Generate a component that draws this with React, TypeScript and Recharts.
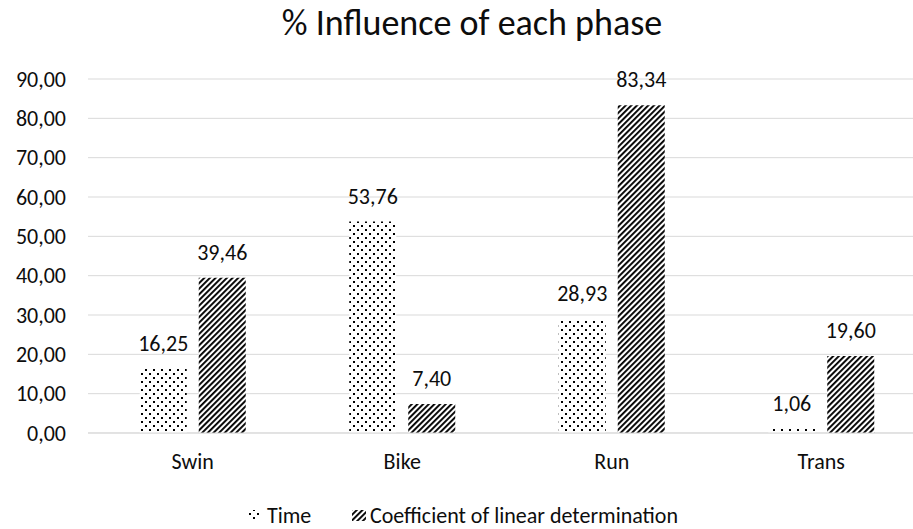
import { BarChart, Bar, XAxis, YAxis, CartesianGrid, LabelList } from "recharts";

const phases = ["Swin", "Bike", "Run", "Trans"];
const timeValues = [16.25, 53.76, 28.93, 1.06];
const coefValues = [39.46, 7.4, 83.34, 19.6];
const yTicks = [0, 10, 20, 30, 40, 50, 60, 70, 80, 90];

const data = phases.map((phase, i) => ({
  phase,
  time: timeValues[i],
  coef: coefValues[i],
}));

const fmt = (v: number) => Number(v).toFixed(2).replace(".", ",");
const FONT = "Carlito, Calibri, 'Open Sans', sans-serif";
const TEXT = "#0d0d0d";
const FS = 22;

// pattern fills, used by bars and legend swatches
const Patterns = () => (
  <defs>
    <pattern id="dots" width={8} height={8} patternUnits="userSpaceOnUse">
      <rect width={8} height={8} fill="#fff" />
      <rect x={1} y={1} width={2} height={2} fill="#000" />
      <rect x={5} y={5} width={2} height={2} fill="#000" />
    </pattern>
    <pattern
      id="stripes"
      width={4}
      height={4}
      patternUnits="userSpaceOnUse"
      patternTransform="rotate(45)"
    >
      <rect width={4} height={4} fill="#fff" />
      <rect x={0} y={0} width={1.9} height={4} fill="#000" />
    </pattern>
  </defs>
);

const Overlay = () => (
  <svg
    width={913}
    height={529}
    style={{ position: "absolute", left: 0, top: 0, pointerEvents: "none" }}
  >
    <Patterns />
    <text x={472} y={35} textAnchor="middle" fontFamily={FONT} fontSize={36} fill={TEXT}>
      % Influence of each phase
    </text>
    <rect x={248} y={510} width={11} height={11} fill="url(#dots)" />
    <text x={267} y={523} fontFamily={FONT} fontSize={FS} fill={TEXT}>
      Time
    </text>
    <rect x={352} y={510} width={14} height={11} fill="url(#stripes)" />
    <text x={370} y={523} fontFamily={FONT} fontSize={FS} fill={TEXT}>
      Coefficient of linear determination
    </text>
  </svg>
);

export default function App() {
  // the source chart runs past the right edge of the picture, so it is clipped
  return (
    <div
      style={{
        position: "absolute",
        left: 0,
        top: 0,
        width: 913,
        height: 529,
        overflow: "hidden",
        background: "#fff",
      }}
    >
      <BarChart
        width={940}
        height={529}
        data={data}
        margin={{ top: 79, right: 14, bottom: 56, left: 0 }}
        barCategoryGap="24.7%"
        barGap={12}
      >
        <Patterns />
        <CartesianGrid vertical={false} stroke="#d9d9d9" />
        <XAxis
          dataKey="phase"
          axisLine={{ stroke: "#d9d9d9" }}
          tickLine={false}
          tick={{ fontFamily: FONT, fontSize: FS, fill: TEXT }}
          dy={12}
          height={40}
        />
        <YAxis
          domain={[0, 90]}
          ticks={yTicks}
          tickFormatter={fmt}
          axisLine={false}
          tickLine={false}
          width={88}
          tick={{ fontFamily: FONT, fontSize: FS, fill: TEXT }}
          dx={-14}
        />
        <Bar dataKey="time" fill="url(#dots)" isAnimationActive={false}>
          <LabelList
            dataKey="time"
            position="top"
            offset={18}
            formatter={(v: any) => fmt(v)}
            style={{ fontFamily: FONT, fontSize: FS, fill: TEXT }}
          />
        </Bar>
        <Bar dataKey="coef" fill="url(#stripes)" isAnimationActive={false}>
          <LabelList
            dataKey="coef"
            position="top"
            offset={18}
            formatter={(v: any) => fmt(v)}
            style={{ fontFamily: FONT, fontSize: FS, fill: TEXT }}
          />
        </Bar>
      </BarChart>
      <Overlay />
    </div>
  );
}
